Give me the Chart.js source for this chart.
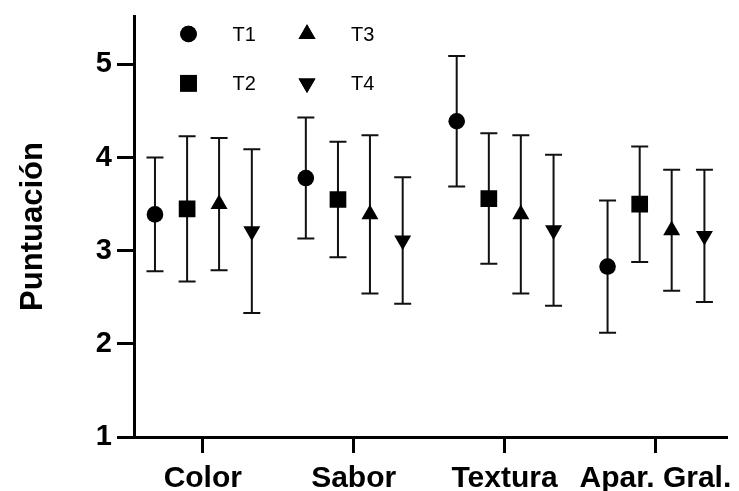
<!DOCTYPE html>
<html>
<head>
<meta charset="utf-8">
<script src="https://cdn.jsdelivr.net/npm/chart.js@4/dist/chart.umd.min.js"></script>
<style>
  html, body { margin: 0; padding: 0; background: #fff; }
  #wrap { width: 739px; height: 491px; position: relative; }
</style>
</head>
<body>
<div id="wrap"><canvas id="c" width="739" height="491"></canvas></div>
<script>
// Sensory scores (mean ± SD) per attribute for each treatment
const categories = ['Color', 'Sabor', 'Textura', 'Apar. Gral.'];
const seriesNames = ['T1', 'T2', 'T3', 'T4'];
const meansT1 = [3.39, 3.78, 4.39, 2.83];
const meansT2 = [3.45, 3.55, 3.56, 3.50];
const meansT3 = [3.50, 3.39, 3.39, 3.22];
const meansT4 = [3.21, 3.11, 3.22, 3.16];
const sdT1 = [0.61, 0.65, 0.70, 0.71];
const sdT2 = [0.78, 0.62, 0.70, 0.62];
const sdT3 = [0.71, 0.85, 0.85, 0.65];
const sdT4 = [0.88, 0.68, 0.81, 0.71];
const yTicks = [1, 2, 3, 4, 5];

const means = [meansT1, meansT2, meansT3, meansT4];
const sds = [sdT1, sdT2, sdT3, sdT4];

// marker looks and horizontal spread of the four treatments within a category
const styles = [
  { pointStyle: 'circle', radius: 8.3, rotation: 0 },
  { pointStyle: 'rect', radius: 11.8, rotation: 0 },
  { pointStyle: 'triangle', radius: 9.8, rotation: 0 },
  { pointStyle: 'triangle', radius: 9.8, rotation: 180 }
];
const spread = [-0.317, -0.104, 0.108, 0.325];

const datasets = seriesNames.map((name, i) => ({
  label: name,
  data: categories.map((c, j) => ({ x: j + spread[i], y: means[i][j], sd: sds[i][j] })),
  pointStyle: styles[i].pointStyle,
  pointRadius: styles[i].radius,
  rotation: styles[i].rotation,
  pointBackgroundColor: '#000',
  pointBorderColor: '#000',
  pointBorderWidth: 0,
  showLine: false
}));

// vertical SD whiskers with caps, drawn beneath the markers
const errorBars = {
  id: 'errorBars',
  beforeDatasetsDraw(chart) {
    const ctx = chart.ctx;
    const ys = chart.scales.y;
    ctx.save();
    ctx.strokeStyle = '#111';
    ctx.lineWidth = 2;
    chart.data.datasets.forEach((ds, i) => {
      const meta = chart.getDatasetMeta(i);
      meta.data.forEach((pt, j) => {
        const d = ds.data[j];
        const top = ys.getPixelForValue(d.y + d.sd);
        const bot = ys.getPixelForValue(d.y - d.sd);
        const x = pt.x;
        const cap = 8.5;
        ctx.beginPath();
        ctx.moveTo(x, top); ctx.lineTo(x, bot);
        ctx.moveTo(x - cap, top); ctx.lineTo(x + cap, top);
        ctx.moveTo(x - cap, bot); ctx.lineTo(x + cap, bot);
        ctx.stroke();
      });
    });
    ctx.restore();
  }
};

// two-column symbol key in the upper left of the plot
const symbolKey = {
  id: 'symbolKey',
  afterDraw(chart) {
    const ctx = chart.ctx;
    ctx.save();
    chart.data.datasets.forEach((ds, i) => {
      const col = Math.floor(i / 2), row = i % 2;
      const mx = 188.5 + col * 118.5;
      const my = 34 + row * 49.3;
      Chart.helpers.drawPoint(ctx, {
        pointStyle: ds.pointStyle, radius: ds.pointRadius, rotation: ds.rotation, borderWidth: 0
      }, mx, my);
      ctx.fillStyle = '#000';
      ctx.fill();
      ctx.font = '20px "Liberation Sans", Arial, sans-serif';
      ctx.textAlign = 'left';
      ctx.textBaseline = 'middle';
      ctx.fillStyle = '#000';
      ctx.fillText(ds.label, mx + 44, my + 1);
    });
    ctx.restore();
  }
};

new Chart(document.getElementById('c'), {
  type: 'scatter',
  data: { datasets },
  plugins: [errorBars, symbolKey],
  options: {
    responsive: false,
    animation: false,
    events: [],
    layout: { padding: { top: 16, right: 10, bottom: 0, left: 0 } },
    plugins: { legend: { display: false }, tooltip: { enabled: false } },
    scales: {
      x: {
        type: 'linear',
        min: -0.456,
        max: 3.476,
        afterBuildTicks: s => { s.ticks = categories.map((c, j) => ({ value: j })); },
        afterFit: s => { s.height = 54; s.paddingLeft = 0; s.paddingRight = 0; },
        grid: { drawOnChartArea: false, drawTicks: true, tickLength: 16, tickWidth: 3, tickColor: '#000' },
        border: { display: true, width: 3, color: '#000' },
        ticks: {
          padding: 8,
          color: '#000',
          maxRotation: 0,
          autoSkip: false,
          font: { family: '"Liberation Sans", Arial, sans-serif', size: 30, weight: 'bold' },
          callback: v => categories[v]
        }
      },
      y: {
        min: 1,
        max: 5.52,
        afterBuildTicks: s => { s.ticks = yTicks.map(v => ({ value: v })); },
        afterFit: s => { s.width = 134; s.paddingTop = 0; s.paddingBottom = 0; },
        grid: { drawOnChartArea: false, drawTicks: true, tickLength: 17, tickWidth: 3, tickColor: '#000' },
        border: { display: true, width: 3, color: '#000' },
        ticks: {
          padding: 5,
          color: '#000',
          font: { family: '"Liberation Sans", Arial, sans-serif', size: 29, weight: 'bold' }
        },
        title: {
          display: true,
          text: 'Puntuación',
          color: '#000',
          padding: { top: 15, bottom: 0 },
          font: { family: '"Liberation Sans", Arial, sans-serif', size: 31, weight: 'bold' }
        }
      }
    }
  }
});
</script>
</body>
</html>
